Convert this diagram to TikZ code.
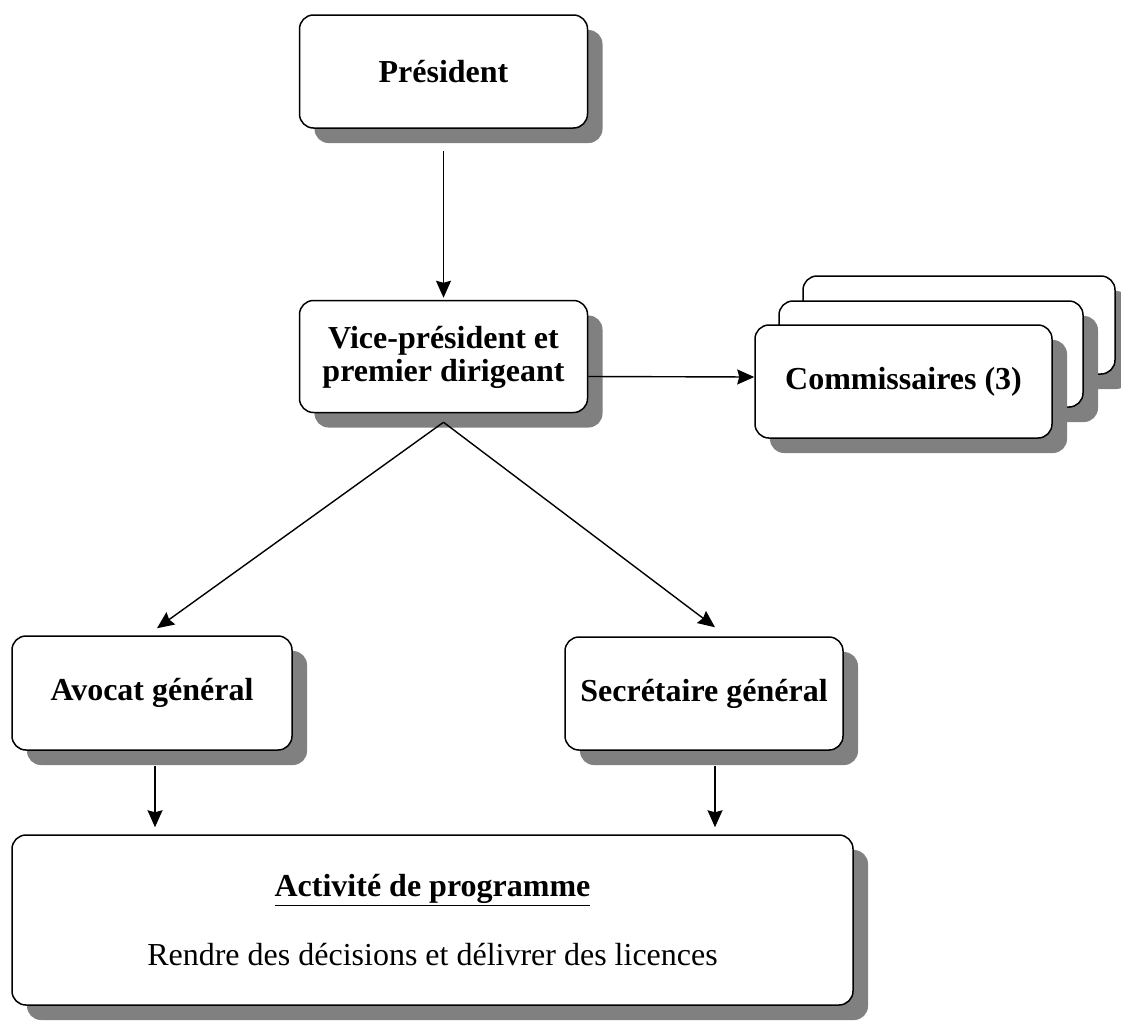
\documentclass[tikz,border=0pt]{standalone}
\usepackage{fontspec}
\setmainfont{Liberation Serif}
\usetikzlibrary{arrows.meta,shadows}

\begin{document}
\begin{tikzpicture}[x=1pt,y=-1pt,
	box/.style={draw,line width=1.5pt,rounded corners=14pt,fill=white,align=center,
		font=\fontsize{32}{33}\selectfont\bfseries,
		drop shadow={shadow xshift=15pt,shadow yshift=-15pt,fill=gray,opacity=1}},
	link/.style={line width=1.4pt,-{Stealth[length=17pt,width=15pt,inset=2pt]}}]
			\useasboundingbox (0,0) rectangle (1121,1020);
			\node[box,minimum width=288pt,minimum height=113pt] (pres) at (443.5,71.5) {Président};
			\node[box,minimum width=288pt,minimum height=112pt] (vice) at (443.5,356.5) {\strut Vice-président et\\premier dirigeant};
			\node[box,minimum width=312pt,minimum height=98pt] (comm3) at (959,325) {};
			\node[box,minimum width=304pt,minimum height=106pt] (comm2) at (931,354) {};
			\node[box,minimum width=297pt,minimum height=113pt] (comm) at (903.5,381.5) {Commissaires (3)};
			\node[box,minimum width=280pt,minimum height=114pt] (avocat) at (152,693) {Avocat général};
			\node[box,minimum width=278pt,minimum height=113pt] (secr) at (704,693.5) {Secrétaire général};
			\node[box,minimum width=841pt,minimum height=170pt] (activ) at (432.5,920) {\underline{Activité de programme}\\[36pt]\mdseries Rendre des décisions et délivrer des licences};
			\coordinate (fork) at ([yshift=-9pt]vice.south);
			\coordinate (avo-out) at ([xshift=3pt,yshift=-15pt]avocat.south);
			\coordinate (sec-out) at ([xshift=11pt,yshift=-15pt]secr.south);
			\draw[link,shorten >=2pt] ([yshift=-22pt]pres.south) -- (vice.north);
			\draw[link] ([yshift=-20pt]vice.east) -- ([yshift=4.5pt]comm.west);
			\draw[link] (fork) -- ([shift={(5pt,7pt)}]avocat.north);
			\draw[link] (fork) -- ([shift={(11pt,9pt)}]secr.north);
			\draw[link,shorten >=7pt] (avo-out) -- (avo-out |- activ.north);
			\draw[link,shorten >=7pt] (sec-out) -- (sec-out |- activ.north);
		\end{tikzpicture}
\end{document}
